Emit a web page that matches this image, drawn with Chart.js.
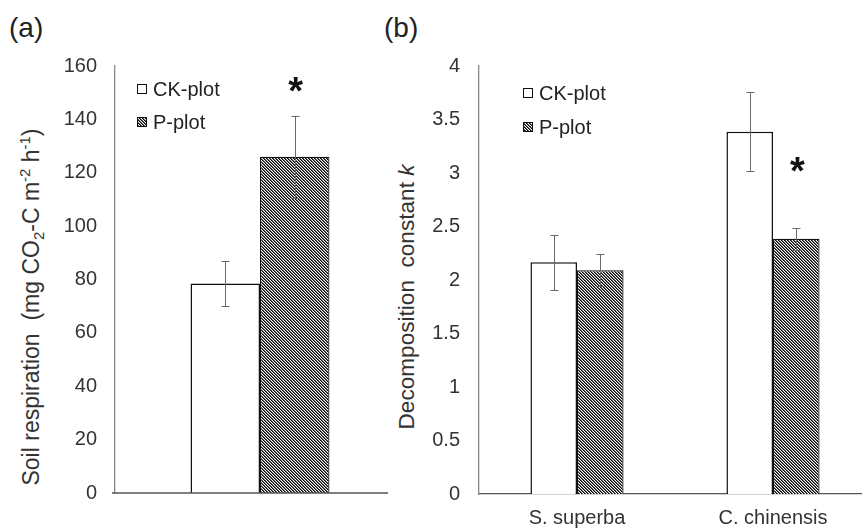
<!DOCTYPE html>
<html><head><meta charset="utf-8">
<script src="https://cdn.jsdelivr.net/npm/chart.js@4.4.1/dist/chart.umd.min.js"></script>
<style>
html,body{margin:0;padding:0;background:#fff;width:862px;height:528px;overflow:hidden;position:relative;font-family:"Liberation Sans",Arial,sans-serif;color:#333}
.cv{position:absolute;top:0}
#wa{left:0;width:430px;height:528px}
#wb{left:430px;width:445px;height:528px}
.lbl{position:absolute;font-size:28px;color:#222;line-height:32px}
.yt{position:absolute;white-space:pre;transform:translate(-50%,-50%) rotate(-90deg);color:#333;line-height:1}
sub,sup{font-size:65%;line-height:0}
</style></head>
<body>
<div class="lbl" style="left:9px;top:12px">(a)</div>
<div class="lbl" style="left:384px;top:12px">(b)</div>
<div class="yt" style="left:31px;top:307px;font-size:23px">Soil respiration  (mg CO<sub>2</sub>-C m<sup>-2</sup> h<sup>-1</sup>)</div>
<div class="yt" style="left:407px;top:297px;font-size:22.6px">Decomposition  constant <i>k</i></div>
<div class="cv" id="wa"><canvas id="ca" width="430" height="528"></canvas></div>
<div class="cv" id="wb"><canvas id="cb" width="445" height="528"></canvas></div>
<script>
// ---- data ----
const seriesNames = ['CK-plot', 'P-plot'];
const respCategories = [''];
const respCK = [78.5];
const respCKErr = [8.3];
const respP = [126];
const respPErr = [15.3];
const respPSig = ['*'];
const respPSigAt = [154];
const respTicks = {min: 0, max: 160, step: 20};

const kCategories = ['S. superba', 'C. chinensis'];
const kCK = [2.165, 3.385];
const kCKErr = [0.255, 0.37];
const kP = [2.09, 2.385];
const kPErr = [0.15, 0.10];
const kPSig = ['', '*'];
const kPSigAt = [null, 3.1];
const kTicks = {min: 0, max: 4, step: 0.5};

// ---- styles ----
const FONT = '"Liberation Sans", Arial, sans-serif';
function makePattern(){
  const c = document.createElement('canvas'); c.width = 3; c.height = 3;
  const g = c.getContext('2d');
  const cols = ['#000', '#666', '#fff'];
  for (let y = 0; y < 3; y++) for (let x = 0; x < 3; x++) {
    g.fillStyle = cols[((x - y) % 3 + 3) % 3]; g.fillRect(x, y, 1, 1);
  }
  return g.createPattern(c, 'repeat');
}
const hatch = makePattern();

const errorBars = {
  id: 'errorBars',
  afterDatasetsDraw(chart){
    const ctx = chart.ctx, ys = chart.scales.y;
    chart.data.datasets.forEach((ds, i) => {
      const meta = chart.getDatasetMeta(i);
      meta.data.forEach((el, j) => {
        const v = ds.data[j], e = ds.errors[j];
        const x = Math.round(el.x) + 0.5;
        const yt = Math.round(ys.getPixelForValue(v + e)) + 0.5;
        const yb = Math.round(ys.getPixelForValue(v - e)) + 0.5;
        ctx.save();
        ctx.strokeStyle = '#6a6a6a'; ctx.lineWidth = 1;
        ctx.beginPath();
        ctx.moveTo(x, yt); ctx.lineTo(x, yb);
        ctx.moveTo(x - 4, yt); ctx.lineTo(x + 4, yt);
        ctx.moveTo(x - 4, yb); ctx.lineTo(x + 4, yb);
        ctx.stroke(); ctx.restore();
        if (ds.sig && ds.sig[j]) {
          ctx.save();
          ctx.fillStyle = '#111';
          ctx.font = 'bold 38px ' + FONT;
          ctx.textAlign = 'center'; ctx.textBaseline = 'alphabetic';
          ctx.fillText(ds.sig[j], el.x + 1, ys.getPixelForValue(ds.sigAt[j]) + 22);
          ctx.restore();
        }
      });
    });
  }
};

const boxLegend = {
  id: 'boxLegend',
  afterDraw(chart, args, o){
    const ctx = chart.ctx, a = chart.chartArea;
    chart.data.datasets.forEach((ds, i) => {
      const x = a.left + o.dx, y = a.top + o.dy + i * o.gap;
      ctx.save();
      ctx.fillStyle = ds.backgroundColor;
      ctx.fillRect(x, y - 5, 10, 10);
      ctx.strokeStyle = '#111'; ctx.lineWidth = 1;
      ctx.strokeRect(x + 0.5, y - 4.5, 9, 9);
      ctx.fillStyle = '#222';
      ctx.font = '20px ' + FONT;
      ctx.textAlign = 'left'; ctx.textBaseline = 'middle';
      ctx.fillText(ds.label, x + 16, y + 1);
      ctx.restore();
    });
  }
};

const xLine = {
  id: 'xLine',
  afterDatasetsDraw(chart, args, o){
    if (!o.draw) return;
    const ctx = chart.ctx, a = chart.chartArea;
    ctx.save(); ctx.strokeStyle = '#555'; ctx.lineWidth = 1.3;
    ctx.beginPath();
    ctx.moveTo(a.left - 3, a.bottom); ctx.lineTo(a.right - o.trim, a.bottom);
    ctx.stroke(); ctx.restore();
  }
};

function makeChart(id, cats, ckVals, ckErr, pVals, pErr, pSig, pSigAt, t, cfg){
  return new Chart(document.getElementById(id), {
    type: 'bar',
    data: {
      labels: cats,
      datasets: [
        {label: seriesNames[0], data: ckVals, errors: ckErr, backgroundColor: '#ffffff',
         borderColor: '#111', borderWidth: 1.5, borderSkipped: 'bottom'},
        {label: seriesNames[1], data: pVals, errors: pErr, sig: pSig, sigAt: pSigAt,
         backgroundColor: hatch, borderColor: '#111', borderWidth: 1.2, borderSkipped: 'bottom'}
      ]
    },
    options: {
      responsive: false, animation: false, devicePixelRatio: 1,
      layout: {padding: {top: 66, left: 0, right: cfg.padRight, bottom: 0}},
      datasets: {bar: {barPercentage: 1, categoryPercentage: cfg.catPct}},
      plugins: {
        legend: {display: false}, tooltip: {enabled: false},
        boxLegend: cfg.legend,
        xLine: cfg.xLine
      },
      scales: {
        x: {
          grid: {display: false, drawTicks: false},
          border: {display: !cfg.xLine.draw, color: '#555', width: 1.3},
          ticks: {padding: 12, color: '#333', font: {family: FONT, size: 20}, maxRotation: 0},
          afterFit(s){ s.height = cfg.xHeight; }
        },
        y: {
          min: t.min, max: t.max,
          grid: {display: false, drawTicks: false},
          border: {color: '#888', width: 1.3},
          ticks: {stepSize: t.step, padding: cfg.yPad, color: '#333', font: {family: FONT, size: 20},
                  callback: (v) => String(Math.round(v * 1000) / 1000)},
          afterFit(s){ s.width = cfg.yWidth; }
        }
      }
    },
    plugins: [errorBars, boxLegend, xLine]
  });
}

makeChart('ca', respCategories, respCK, respCKErr, respP, respPErr, respPSig, respPSigAt, respTicks,
  {padRight: 25, catPct: 0.479, xHeight: 35, yWidth: 115, yPad: 18,
   legend: {dx: 22, dy: 23, gap: 33}, xLine: {draw: true, trim: 17}});
makeChart('cb', kCategories, kCK, kCKErr, kP, kPErr, kPSig, kPSigAt, kTicks,
  {padRight: 4, catPct: 0.475, xHeight: 34, yWidth: 49, yPad: 19,
   legend: {dx: 44, dy: 27, gap: 34}, xLine: {draw: false, trim: 0}});
</script>
</body></html>
